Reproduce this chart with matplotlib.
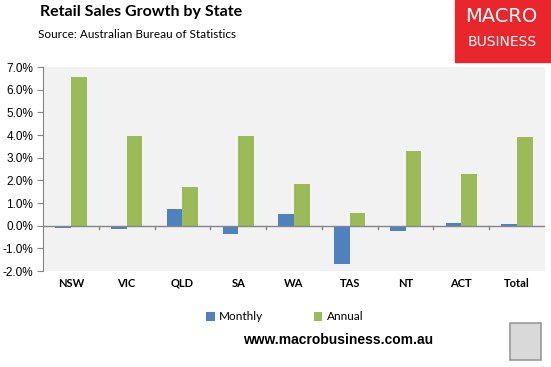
import numpy as np
import matplotlib
matplotlib.use("Agg")
import matplotlib.pyplot as plt
from matplotlib.patches import Rectangle

states = ["NSW", "VIC", "QLD", "SA", "WA", "TAS", "NT", "ACT", "Total"]
monthly = [-0.10, -0.13, 0.75, -0.35, 0.53, -1.68, -0.22, 0.12, 0.07]
annual = [6.55, 3.95, 1.70, 3.95, 1.83, 0.58, 3.30, 2.28, 3.92]
yticks = np.arange(-2, 8, 1)

blue = "#4F81BD"
green = "#9BBB59"

fig = plt.figure(figsize=(5.51, 3.67), dpi=100)
ax = fig.add_axes([43 / 551, 1 - 271 / 367, 502 / 551, 204 / 367])
ax.set_facecolor("#F2F2F2")

x = np.arange(len(states))
w = 0.28
ax.bar(x - w / 2, monthly, w, color=blue, label="Monthly")
ax.bar(x + w / 2, annual, w, color=green, label="Annual")

ax.set_xlim(-0.5, len(states) - 0.5)
ax.set_ylim(-2, 7)
ax.set_yticks(yticks)
ax.set_yticklabels(["%.1f%%" % v for v in yticks], family="Liberation Sans", fontsize=8.5)
ax.tick_params(axis="y", length=4, color="#868686", pad=3)

# categories as text, ticks drawn on the zero line
ax.set_xticks([])
for i, s in enumerate(states):
    ax.text(i, -2.55, s, ha="center", va="center", fontsize=8,
            family="Lato", weight="bold")
ax.axhline(0, color="#868686", lw=1)
for b in np.arange(0.5, len(states) - 0.5, 1):
    ax.plot([b, b], [0, -0.15], color="#868686", lw=1)

for sp in ["top", "right", "bottom"]:
    ax.spines[sp].set_visible(False)
ax.spines["left"].set_color("#868686")

leg = fig.legend(loc="center", bbox_to_anchor=(285 / 551, 1 - 317 / 367), ncol=2,
                 frameon=False, handlelength=0.7, handleheight=0.7,
                 handletextpad=0.4, columnspacing=4.3,
                 prop={"family": "Lato", "size": 8.5})

fig.text(40 / 551, 1 - 12 / 367, "Retail Sales Growth by State", fontsize=11.5,
         family="Lato", weight="bold", va="center")
fig.text(38 / 551, 1 - 34 / 367, "Source: Australian Bureau of Statistics", fontsize=8.5,
         family="Lato", va="center")
fig.text(338 / 551, 1 - 340 / 367, "www.macrobusiness.com.au", fontsize=10,
         family="Liberation Sans", weight="bold", ha="center", va="center")

# logo box
fig.patches.append(Rectangle((455 / 551, 1 - 62 / 367), 96 / 551, 62 / 367,
                             transform=fig.transFigure, color="#E8262B", zorder=0))
fig.text(501 / 551, 1 - 17 / 367, "MACRO", color="white", fontsize=14,
         family="DejaVu Sans", ha="center", va="center")
fig.text(502 / 551, 1 - 42 / 367, "BUSINESS", color="white", fontsize=10,
         family="DejaVu Sans", ha="center", va="center")

# wolf picture placeholder
fig.patches.append(Rectangle((510 / 551, 1 - 360 / 367), 31 / 551, 37 / 367,
                             transform=fig.transFigure, facecolor="#D9D9D9",
                             edgecolor="#999999", lw=1.2))

fig.savefig("out.png", dpi=100)
